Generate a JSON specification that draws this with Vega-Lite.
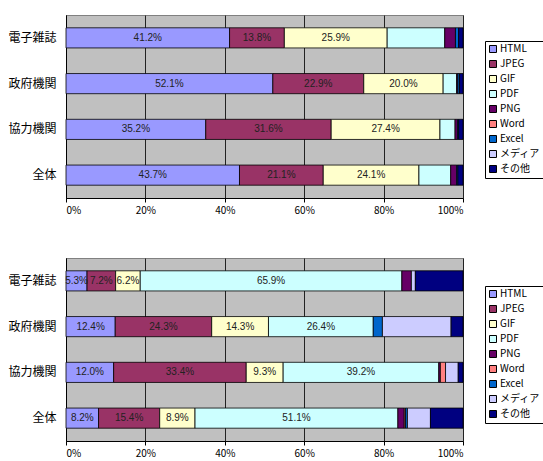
{
  "$schema": "https://vega.github.io/schema/vega-lite/v6.json",
  "padding": {"left": 7, "top": 14, "right": 0, "bottom": 3},
  "background": "white",
  "datasets": {
    "top": [
      {"c": "電子雑誌", "t": "HTML", "v": 0.412},
      {"c": "電子雑誌", "t": "JPEG", "v": 0.138},
      {"c": "電子雑誌", "t": "GIF", "v": 0.259},
      {"c": "電子雑誌", "t": "PDF", "v": 0.145},
      {"c": "電子雑誌", "t": "PNG", "v": 0.027},
      {"c": "電子雑誌", "t": "Excel", "v": 0.008},
      {"c": "電子雑誌", "t": "その他", "v": 0.011},
      {"c": "政府機関", "t": "HTML", "v": 0.521},
      {"c": "政府機関", "t": "JPEG", "v": 0.229},
      {"c": "政府機関", "t": "GIF", "v": 0.200},
      {"c": "政府機関", "t": "PDF", "v": 0.034},
      {"c": "政府機関", "t": "PNG", "v": 0.003},
      {"c": "政府機関", "t": "Excel", "v": 0.004},
      {"c": "政府機関", "t": "その他", "v": 0.009},
      {"c": "協力機関", "t": "HTML", "v": 0.352},
      {"c": "協力機関", "t": "JPEG", "v": 0.316},
      {"c": "協力機関", "t": "GIF", "v": 0.274},
      {"c": "協力機関", "t": "PDF", "v": 0.038},
      {"c": "協力機関", "t": "PNG", "v": 0.006},
      {"c": "協力機関", "t": "Excel", "v": 0.003},
      {"c": "協力機関", "t": "その他", "v": 0.011},
      {"c": "全体", "t": "HTML", "v": 0.437},
      {"c": "全体", "t": "JPEG", "v": 0.211},
      {"c": "全体", "t": "GIF", "v": 0.241},
      {"c": "全体", "t": "PDF", "v": 0.080},
      {"c": "全体", "t": "PNG", "v": 0.015},
      {"c": "全体", "t": "Excel", "v": 0.003},
      {"c": "全体", "t": "その他", "v": 0.013}
    ],
    "bottom": [
      {"c": "電子雑誌", "t": "HTML", "v": 0.053},
      {"c": "電子雑誌", "t": "JPEG", "v": 0.072},
      {"c": "電子雑誌", "t": "GIF", "v": 0.062},
      {"c": "電子雑誌", "t": "PDF", "v": 0.659},
      {"c": "電子雑誌", "t": "PNG", "v": 0.024},
      {"c": "電子雑誌", "t": "メディア", "v": 0.010},
      {"c": "電子雑誌", "t": "その他", "v": 0.120},
      {"c": "政府機関", "t": "HTML", "v": 0.124},
      {"c": "政府機関", "t": "JPEG", "v": 0.243},
      {"c": "政府機関", "t": "GIF", "v": 0.143},
      {"c": "政府機関", "t": "PDF", "v": 0.264},
      {"c": "政府機関", "t": "Excel", "v": 0.023},
      {"c": "政府機関", "t": "メディア", "v": 0.173},
      {"c": "政府機関", "t": "その他", "v": 0.030},
      {"c": "協力機関", "t": "HTML", "v": 0.120},
      {"c": "協力機関", "t": "JPEG", "v": 0.334},
      {"c": "協力機関", "t": "GIF", "v": 0.093},
      {"c": "協力機関", "t": "PDF", "v": 0.392},
      {"c": "協力機関", "t": "PNG", "v": 0.004},
      {"c": "協力機関", "t": "Word", "v": 0.013},
      {"c": "協力機関", "t": "メディア", "v": 0.032},
      {"c": "協力機関", "t": "その他", "v": 0.012},
      {"c": "全体", "t": "HTML", "v": 0.082},
      {"c": "全体", "t": "JPEG", "v": 0.154},
      {"c": "全体", "t": "GIF", "v": 0.089},
      {"c": "全体", "t": "PDF", "v": 0.511},
      {"c": "全体", "t": "PNG", "v": 0.016},
      {"c": "全体", "t": "Word", "v": 0.003},
      {"c": "全体", "t": "Excel", "v": 0.005},
      {"c": "全体", "t": "メディア", "v": 0.058},
      {"c": "全体", "t": "その他", "v": 0.082}
    ]
  },
  "vconcat": [
    {
      "data": {"name": "top"},
      "width": 397,
      "height": 183,
      "transform": [
        {"stack": "v", "groupby": ["c"], "as": ["a", "b"]},
        {"calculate": "(datum.a + datum.b) / 2", "as": "m"}
      ],
      "encoding": {
        "y": {"field": "c", "type": "nominal", "sort": null, "title": null,
              "scale": {"paddingInner": 0.56, "paddingOuter": 0.28}}
      },
      "layer": [
        {
          "mark": {"type": "bar", "stroke": "#000", "strokeWidth": 0.8},
          "encoding": {
            "x": {"field": "a", "type": "quantitative", "scale": {"domain": [0, 1], "nice": false}, "title": null,
                  "axis": {"format": ".0%", "values": [0, 0.2, 0.4, 0.6, 0.8, 1]}},
            "x2": {"field": "b"},
            "color": {"field": "t", "type": "nominal", "title": null,
                      "scale": {"domain": ["HTML", "JPEG", "GIF", "PDF", "PNG", "Word", "Excel", "メディア", "その他"],
                                "range": ["#9999FF", "#993366", "#FFFFCC", "#CCFFFF", "#660066", "#FF8080", "#0066CC", "#CCCCFF", "#000080"]},
                      "legend": {"orient": "none", "legendX": 419, "legendY": 26}}
          }
        },
        {
          "transform": [{"filter": {"field": "t", "oneOf": ["HTML", "JPEG", "GIF"]}}],
          "mark": {"type": "text", "fontSize": 10, "font": "Liberation Sans", "color": "#222"},
          "encoding": {
            "x": {"field": "m", "type": "quantitative"},
            "text": {"field": "v", "type": "quantitative", "format": ".1%"}
          }
        }
      ]
    },
    {
      "data": {"name": "bottom"},
      "width": 397,
      "height": 183,
      "transform": [
        {"stack": "v", "groupby": ["c"], "as": ["a", "b"]},
        {"calculate": "(datum.a + datum.b) / 2", "as": "m"}
      ],
      "encoding": {
        "y": {"field": "c", "type": "nominal", "sort": null, "title": null,
              "scale": {"paddingInner": 0.56, "paddingOuter": 0.28}}
      },
      "layer": [
        {
          "mark": {"type": "bar", "stroke": "#000", "strokeWidth": 0.8},
          "encoding": {
            "x": {"field": "a", "type": "quantitative", "scale": {"domain": [0, 1], "nice": false}, "title": null,
                  "axis": {"format": ".0%", "values": [0, 0.2, 0.4, 0.6, 0.8, 1]}},
            "x2": {"field": "b"},
            "color": {"field": "t", "type": "nominal", "title": null,
                      "scale": {"domain": ["HTML", "JPEG", "GIF", "PDF", "PNG", "Word", "Excel", "メディア", "その他"],
                                "range": ["#9999FF", "#993366", "#FFFFCC", "#CCFFFF", "#660066", "#FF8080", "#0066CC", "#CCCCFF", "#000080"]},
                      "legend": {"orient": "none", "legendX": 419, "legendY": 28}}
          }
        },
        {
          "transform": [{"filter": {"field": "t", "oneOf": ["HTML", "JPEG", "GIF", "PDF"]}}],
          "mark": {"type": "text", "fontSize": 10, "font": "Liberation Sans", "color": "#222"},
          "encoding": {
            "x": {"field": "m", "type": "quantitative"},
            "text": {"field": "v", "type": "quantitative", "format": ".1%"}
          }
        }
      ]
    }
  ],
  "spacing": 41,
  "resolve": {"scale": {"color": "independent"}, "legend": {"color": "independent"}},
  "config": {
    "font": "Noto Sans CJK JP",
    "view": {"fill": "#C0C0C0", "stroke": "#808080", "strokeWidth": 1},
    "axis": {"labelFont": "Noto Sans CJK JP", "labelColor": "#000", "domainColor": "#000", "tickColor": "#000",
             "gridColor": "#222", "gridOpacity": 1, "gridWidth": 1},
    "axisX": {"labelFontSize": 10, "grid": true, "tickSize": 4, "labelPadding": 3},
    "axisY": {"labelFontSize": 12, "grid": false, "ticks": false, "labelPadding": 10, "domain": true},
    "legend": {"strokeColor": "#000", "fillColor": "#fff", "padding": 3, "symbolType": "square", "symbolSize": 49,
               "symbolStrokeColor": "#000", "symbolStrokeWidth": 1, "labelFontSize": 10, "labelFont": "Noto Sans CJK JP",
               "labelColor": "#000", "rowPadding": 3, "labelOffset": 2, "symbolOpacity": 1}
  }
}
